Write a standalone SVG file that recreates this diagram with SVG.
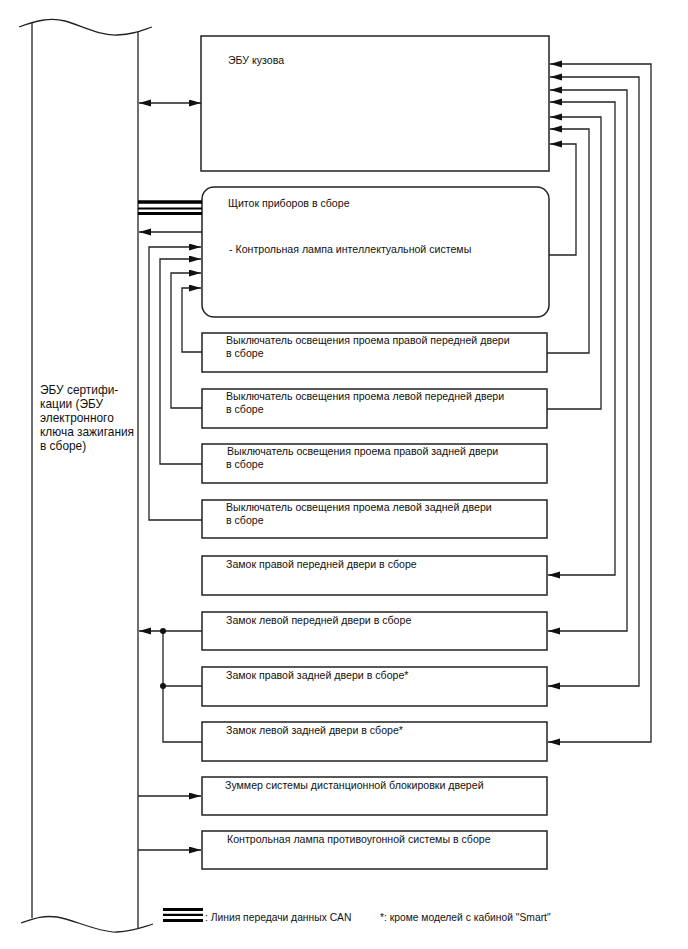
<svg xmlns="http://www.w3.org/2000/svg" width="688" height="949" viewBox="0 0 688 949">
<style>
  .box{fill:#fff;stroke:#222;stroke-width:1.5}
  .ln{fill:none;stroke:#222;stroke-width:1.3}
  .t{font-family:"Liberation Sans",Arial,sans-serif;font-size:10.6px;fill:#111}
  .tl{font-family:"Liberation Sans",Arial,sans-serif;font-size:11.9px;fill:#111}
  .tg{font-family:"Liberation Sans",Arial,sans-serif;font-size:10.3px;fill:#111}
  .can{stroke:#000}
</style>
<defs>
  <marker id="ah" markerUnits="userSpaceOnUse" markerWidth="12" markerHeight="8" refX="12" refY="3.5" orient="auto-start-reverse">
    <path d="M0,0 L12,3.5 L0,7 z" fill="#111"/>
  </marker>
</defs>

<g id="ecu-cert">
  <path class="ln" d="M19,27 C35,21 50,17 65,21 S100,36 117,35 S140,31 152,27"/>
  <path class="ln" d="M32,23 V918"/>
  <path class="ln" d="M138,32 V928"/>
  <path class="ln" d="M21,923 C33,919 42,915 57,917 S100,933 117,932 S140,928 153,924"/>
  <text class="tl" x="40" y="394">ЭБУ сертифи-</text>
  <text class="tl" x="40" y="408">кации (ЭБУ</text>
  <text class="tl" x="40" y="422">электронного</text>
  <text class="tl" x="40" y="436">ключа зажигания</text>
  <text class="tl" x="40" y="450">в сборе)</text>
</g>

<g id="body-ecu">
  <rect class="box" x="201" y="36" width="348" height="135"/>
  <text class="t" x="228" y="64">ЭБУ кузова</text>
</g>

<g id="cluster">
  <rect class="box" x="202" y="187" width="347" height="130" rx="12"/>
  <text class="t" x="228" y="207">Щиток приборов в сборе</text>
  <text class="t" x="229" y="253">- Контрольная лампа интеллектуальной системы</text>
</g>

<g id="sw-rf">
  <rect class="box" x="202" y="333" width="345" height="39"/>
  <text class="t" x="226" y="344">Выключатель освещения проема правой передней двери</text>
  <text class="t" x="226" y="357">в сборе</text>
</g>
<g id="sw-lf">
  <rect class="box" x="202" y="389" width="345" height="39"/>
  <text class="t" x="226" y="400">Выключатель освещения проема левой передней двери</text>
  <text class="t" x="226" y="413">в сборе</text>
</g>
<g id="sw-rr">
  <rect class="box" x="202" y="444" width="345" height="39"/>
  <text class="t" x="227" y="455">Выключатель освещения проема правой задней двери</text>
  <text class="t" x="226" y="468">в сборе</text>
</g>
<g id="sw-lr">
  <rect class="box" x="202" y="500" width="345" height="38"/>
  <text class="t" x="226" y="511">Выключатель освещения проема левой задней двери</text>
  <text class="t" x="226" y="524">в сборе</text>
</g>

<g id="lock-rf">
  <rect class="box" x="202" y="556" width="345" height="39"/>
  <text class="t" x="226" y="568">Замок правой передней двери в сборе</text>
</g>
<g id="lock-lf">
  <rect class="box" x="202" y="612" width="345" height="38"/>
  <text class="t" x="226" y="624">Замок левой передней двери в сборе</text>
</g>
<g id="lock-rr">
  <rect class="box" x="202" y="667" width="345" height="39"/>
  <text class="t" x="226" y="679">Замок правой задней двери в сборе*</text>
</g>
<g id="lock-lr">
  <rect class="box" x="202" y="722" width="345" height="39"/>
  <text class="t" x="226" y="734">Замок левой задней двери в сборе*</text>
</g>

<g id="buzzer">
  <rect class="box" x="202" y="777" width="345" height="38"/>
  <text class="t" x="225" y="789">Зуммер системы дистанционной блокировки дверей</text>
</g>
<g id="theft-lamp">
  <rect class="box" x="202" y="831" width="345" height="38"/>
  <text class="t" x="227" y="843">Контрольная лампа противоугонной системы в сборе</text>
</g>

<g id="connectors">
  <path class="ln" d="M139,103 H201" marker-start="url(#ah)" marker-end="url(#ah)"/>
  <line class="can" x1="138" y1="202" x2="202" y2="202" stroke-width="3.5"/>
  <line class="can" x1="138" y1="208.5" x2="202" y2="208.5" stroke-width="2"/>
  <line class="can" x1="138" y1="213.5" x2="202" y2="213.5" stroke-width="3"/>
  <path class="ln" d="M202,232 H139" marker-end="url(#ah)"/>
  <path class="ln" d="M202,352 H182 V288 H201" marker-end="url(#ah)"/>
  <path class="ln" d="M202,408 H171 V273 H201" marker-end="url(#ah)"/>
  <path class="ln" d="M202,464 H160 V259 H201" marker-end="url(#ah)"/>
  <path class="ln" d="M202,520 H149 V247 H201" marker-end="url(#ah)"/>

  <path class="ln" d="M202,742 H163 V631 H139" marker-end="url(#ah)"/>
  <path class="ln" d="M202,631 H163"/>
  <path class="ln" d="M202,686 H163"/>
  <circle cx="163" cy="631" r="3" fill="#111"/>
  <circle cx="163" cy="686" r="3" fill="#111"/>

  <path class="ln" d="M138,796 H201" marker-end="url(#ah)"/>
  <path class="ln" d="M138,850 H201" marker-end="url(#ah)"/>

  <path class="ln" d="M548,742 H651 V64 H550" marker-start="url(#ah)" marker-end="url(#ah)"/>
  <path class="ln" d="M548,686 H639 V77 H550" marker-start="url(#ah)" marker-end="url(#ah)"/>
  <path class="ln" d="M548,631 H627 V90 H550" marker-start="url(#ah)" marker-end="url(#ah)"/>
  <path class="ln" d="M548,575 H615 V102 H550" marker-start="url(#ah)" marker-end="url(#ah)"/>
  <path class="ln" d="M547,409 H601 V117 H550" marker-end="url(#ah)"/>
  <path class="ln" d="M547,353 H589 V129 H550" marker-end="url(#ah)"/>
  <path class="ln" d="M549,255 H576 V144 H550" marker-end="url(#ah)"/>
</g>

<g id="legend">
  <line class="can" x1="163" y1="909.5" x2="203" y2="909.5" stroke-width="3"/>
  <line class="can" x1="163" y1="914.8" x2="203" y2="914.8" stroke-width="2.2"/>
  <line class="can" x1="163" y1="920.5" x2="203" y2="920.5" stroke-width="3.2"/>
  <text class="tg" x="205" y="921">: Линия передачи данных CAN</text>
  <text class="tg" x="380" y="921">*: кроме моделей с кабиной "Smart"</text>
</g>
</svg>
